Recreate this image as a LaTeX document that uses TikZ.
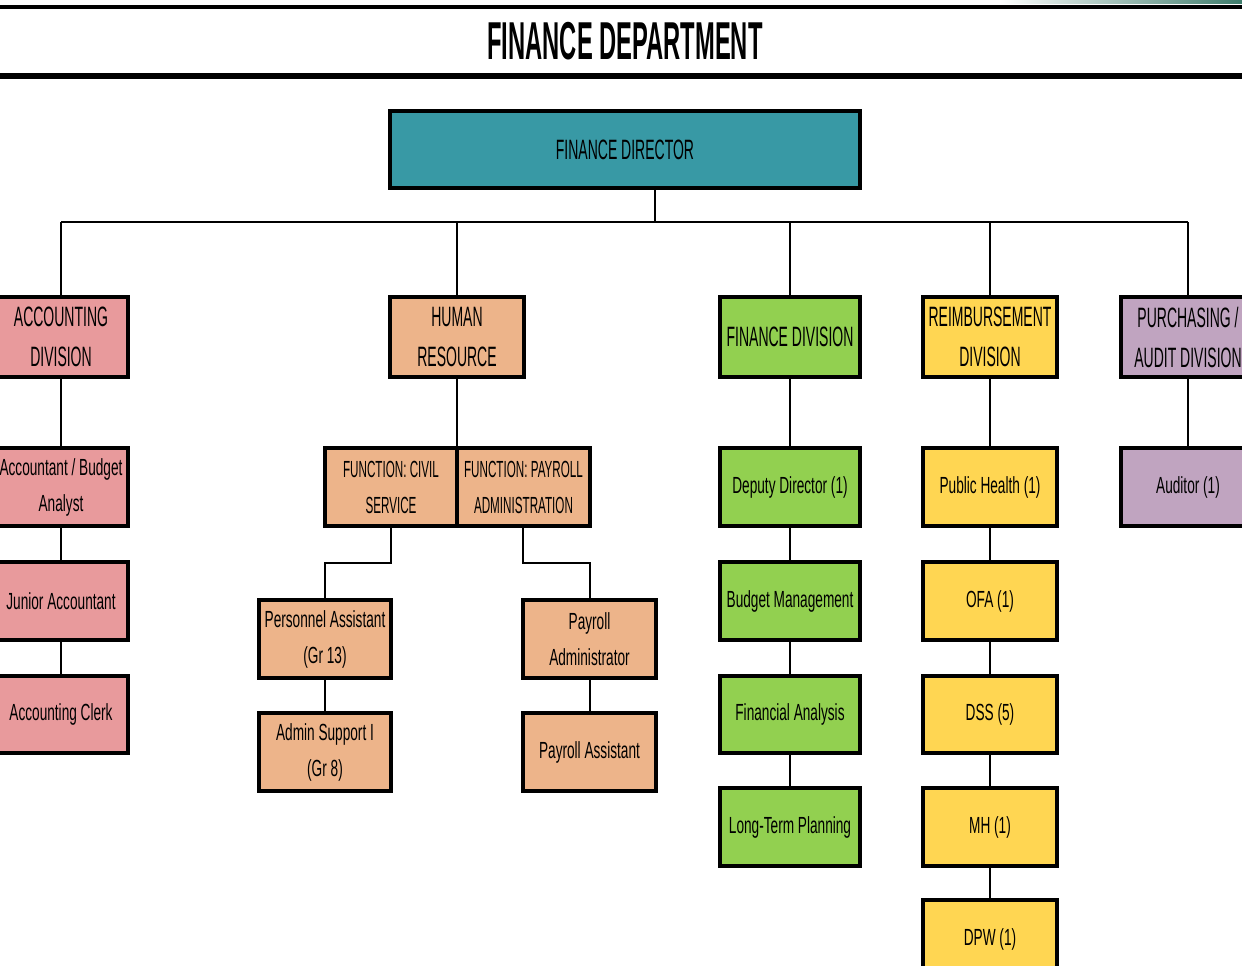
\documentclass[tikz,border=0pt]{standalone}
\usepackage{fontspec}
\setmainfont{Liberation Sans}[FakeStretch=0.5]
\newfontfamily\titlefont{Liberation Sans}[FakeStretch=0.445]
\newfontfamily\smallfont{Liberation Sans}[FakeStretch=0.585]
\usepackage{tikz}

\definecolor{dirteal}{RGB}{56,153,165}
\definecolor{accpink}{RGB}{232,154,156}
\definecolor{hrpeach}{RGB}{237,180,138}
\definecolor{fingreen}{RGB}{146,208,80}
\definecolor{reimyellow}{RGB}{255,214,82}
\definecolor{purlilac}{RGB}{192,164,192}
\definecolor{barteal}{RGB}{62,125,108}

\tikzset{
  box/.style={draw, line width=3pt, align=center, inner sep=0pt,
    minimum width=100.5pt},
  lvltwo/.style={box, minimum height=60pt,
    font=\fontsize{21}{30}\selectfont},
  lvlthree/.style={box, minimum height=58pt,
    font=\smallfont\fontsize{17.5}{27}\selectfont},
  funcbox/.style={lvlthree, fill=hrpeach,
    font=\fontsize{17.5}{27}\selectfont},
  link/.style={line width=1.5pt}
}

\begin{document}
\begin{tikzpicture}[x=.75pt,y=-.75pt]
\useasboundingbox (0,0) rectangle (1242,966);

% header
\shade[left color=white, right color=barteal]
  (1000,0) rectangle (1242,4);
\draw[line width=3.6pt]
  (0,7) -- (1242,7);
\draw[line width=3.9pt]
  (0,76) -- (1242,76);
\node (title) at (625,41)
  {\titlefont\bfseries\fontsize{40}{40}\selectfont FINANCE DEPARTMENT};

% director
\node[box, fill=dirteal, minimum width=352.5pt, minimum height=57.75pt,
  font=\fontsize{21}{30}\selectfont] (dir) at (625,150) {FINANCE DIRECTOR};

% divisions
\node[lvltwo, fill=accpink] (acc) at (61,337) {ACCOUNTING\\DIVISION};
\node[lvltwo, fill=hrpeach] (hr) at (457,337) {HUMAN\\RESOURCE};
\node[lvltwo, fill=fingreen, minimum width=105pt] (fin) at (790,337)
  {FINANCE DIVISION};
\node[lvltwo, fill=reimyellow] (reim) at (990,337)
  {REIMBURSEMENT\\DIVISION};
\node[lvltwo, fill=purlilac] (pur) at (1188,337)
  {PURCHASING /\\AUDIT DIVISION};

% accounting
\node[lvlthree, fill=accpink] (acc1) at (61,487)
  {Accountant / Budget\\Analyst};
\node[lvlthree, fill=accpink] (acc2) at (61,601) {Junior Accountant};
\node[lvlthree, fill=accpink] (acc3) at (61,714.5) {Accounting Clerk};

% human resource
\node[funcbox, minimum width=99pt] (civ) at (391,487)
  {FUNCTION: CIVIL\\SERVICE};
\node[funcbox, minimum width=99.75pt] (pay) at (523.5,487)
  {FUNCTION: PAYROLL\\ADMINISTRATION};
\node[lvlthree, fill=hrpeach, minimum width=99pt] (pers) at (325,639)
  {Personnel Assistant\\(Gr 13)};
\node[lvlthree, fill=hrpeach, minimum width=99pt] (adm) at (325,752)
  {Admin Support I\\(Gr 8)};
\node[lvlthree, fill=hrpeach, minimum width=99.75pt] (payadm) at (589.5,639)
  {Payroll\\Administrator};
\node[lvlthree, fill=hrpeach, minimum width=99.75pt] (payast) at (589.5,752)
  {Payroll Assistant};

% finance
\node[lvlthree, fill=fingreen, minimum width=105pt] (fin1) at (790,487)
  {Deputy Director (1)};
\node[lvlthree, fill=fingreen, minimum width=105pt] (fin2) at (790,601)
  {Budget Management};
\node[lvlthree, fill=fingreen, minimum width=105pt] (fin3) at (790,714.5)
  {Financial Analysis};
\node[lvlthree, fill=fingreen, minimum width=105pt] (fin4) at (790,827)
  {Long-Term Planning};

% reimbursement
\node[lvlthree, fill=reimyellow] (reim1) at (990,487) {Public Health (1)};
\node[lvlthree, fill=reimyellow] (reim2) at (990,601) {OFA (1)};
\node[lvlthree, fill=reimyellow] (reim3) at (990,714.5) {DSS (5)};
\node[lvlthree, fill=reimyellow] (reim4) at (990,827) {MH (1)};
\node[lvlthree, fill=reimyellow] (reim5) at (990,939) {DPW (1)};

% purchasing
\node[lvlthree, fill=purlilac] (pur1) at (1188,487) {Auditor (1)};

% connectors
\coordinate (busL) at (61,222);
\coordinate (busR) at (1188,222);
\coordinate (dirdrop) at (655,222);
\draw[link] (busL) -- (busR);
\draw[link] (dirdrop |- dir.south) -- (dirdrop);
\foreach \d in {acc,hr,fin,reim,pur}
  \draw[link] (\d.north) -- (\d.north |- busL);

\draw[link] (acc) -- (acc1);
\draw[link] (acc1) -- (acc2);
\draw[link] (acc2) -- (acc3);

\draw[link] (hr.south) -- (hr.south |- civ.north);
\coordinate (civbend) at (391,563);
\coordinate (paybend) at (523,563);
\draw[link] (civ.south) -- (civbend) -| (pers.north);
\draw[link] (paybend |- pay.south) -- (paybend) -| (payadm.north);
\draw[link] (pers) -- (adm);
\draw[link] (payadm) -- (payast);

\draw[link] (fin) -- (fin1);
\draw[link] (fin1) -- (fin2);
\draw[link] (fin2) -- (fin3);
\draw[link] (fin3) -- (fin4);

\draw[link] (reim) -- (reim1);
\foreach \a/\b in {reim1/reim2,reim2/reim3,reim3/reim4,reim4/reim5}
  \draw[link] (\a) -- (\b);

\draw[link] (pur) -- (pur1);
\end{tikzpicture}
\end{document}
